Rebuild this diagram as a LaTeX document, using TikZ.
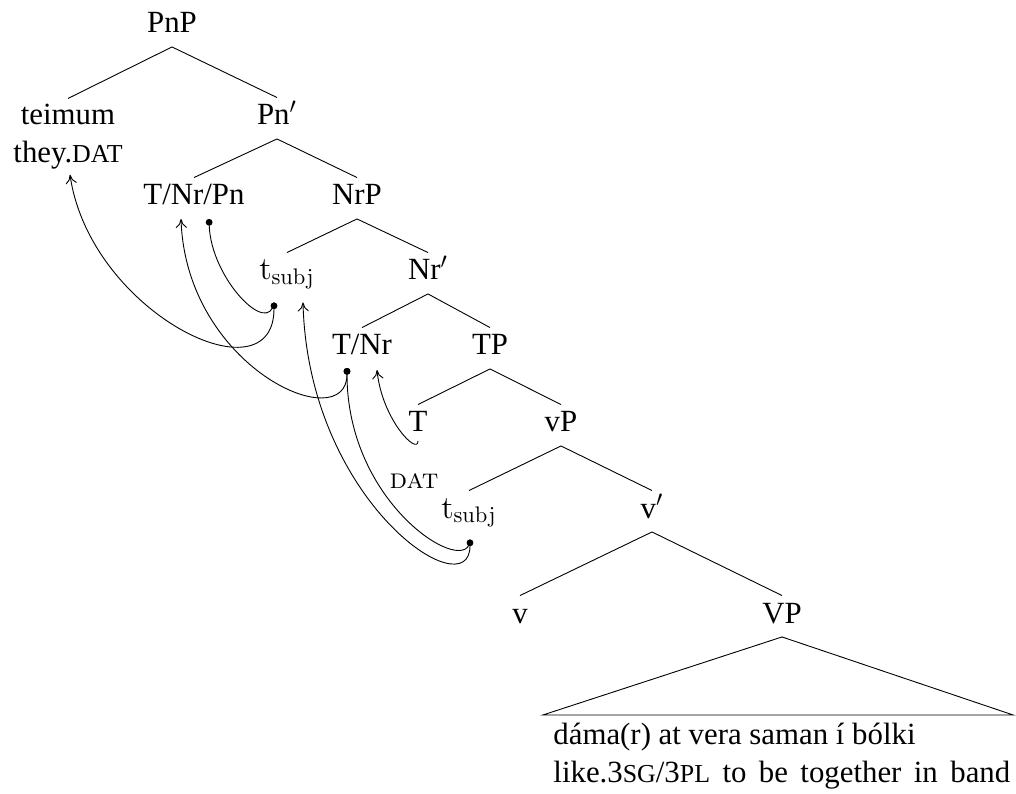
\documentclass[tikz,border=0pt]{standalone}
\usepackage[no-math]{fontspec}
\setmainfont{Liberation Serif}
\usetikzlibrary{arrows.meta}
\newcommand{\gsc}[1]{{\fontsize{11.5pt}{13pt}\selectfont #1}}
\newcommand{\lmsc}[1]{{\fontfamily{lmr}\fontsize{12.5pt}{14pt}\selectfont\scshape #1}}

\begin{document}
\begin{tikzpicture}[
  x=0.4444pt, y=-0.4444pt,
  font=\fontsize{13.7pt}{16.6pt}\selectfont, >={To[length=4pt,width=5pt]},
  cat/.style={anchor=base, inner sep=2.5pt, text height=9.5pt, text depth=3.5pt},
  move/.style={{Circle[length=3pt]}->},
  agree/.style={{Circle[length=3pt]}-}]

  \useasboundingbox (0,0) rectangle (1016,794);

  \node[cat] (pnp) at (172,33) {PnP};
  \node[anchor=base, inner sep=2.5pt, align=center,
        font=\fontsize{13.7pt}{16.9pt}\selectfont] (they) at (68,163)
    {teimum\\ they.\gsc{DAT}};
  \node[cat] (pnbar) at (277,125) {Pn$'$};
  \node[cat] (tnrpn) at (194,205) {T/Nr/Pn};
  \node[cat] (nrp) at (357,205) {NrP};
  \node[cat] (ts1) at (287,280) {$\mathrm{t}_{\mathrm{subj}}$};
  \node[cat] (nrbar) at (428,280) {Nr$'$};
  \node[cat] (tnr) at (362,355) {T/Nr};
  \node[cat] (tp) at (490,355) {TP};
  \node[cat] (t) at (418,432) {T};
  \node[cat] (vp) at (561,432) {vP};
  \node[cat] (ts2) at (469,518) {$\mathrm{t}_{\mathrm{subj}}$};
  \node[cat] (vbar) at (652,518) {v$'$};
  \node[cat] (v) at (520,623) {v};
  \node[cat] (bigvp) at (782,623) {VP};
  \node[anchor=base, inner sep=0pt] (dat) at (414,489) {\lmsc{dat}};
  \node[anchor=base west, inner sep=0pt, align=left] (gloss) at (553,782)
    {dáma(r) at vera saman í bólki\\
     \makebox[203pt][s]{like.3\gsc{SG}/3\gsc{PL} to be together in band}};

  \draw (pnp.south) -- (they.north);
  \draw (pnp.south) -- (pnbar.north);
  \draw (pnbar.south) -- (tnrpn.north);
  \draw (pnbar.south) -- (nrp.north);
  \draw (nrp.south) -- (ts1.north);
  \draw (nrp.south) -- (nrbar.north);
  \draw (nrbar.south) -- (tnr.north);
  \draw (nrbar.south) -- (tp.north);
  \draw (tp.south) -- (t.north);
  \draw (tp.south) -- (vp.north);
  \draw (vp.south) -- (ts2.north);
  \draw (vp.south) -- (vbar.north);
  \draw (vbar.south) -- (v.north);
  \draw (vbar.south) -- (bigvp.north);
  \draw (bigvp.south) -- ([shift={(-239,78)}]bigvp.south)
    -- ([shift={(231,78)}]bigvp.south) -- cycle;

  % movement and agreement
  \draw[move] ([shift={(-13,8.5)}]ts1.south) .. controls +(0,100) and +(20,138) .. ([shift={(2,-1)}]they.south);
  \draw[agree] ([shift={(15,0)}]tnrpn.south) .. controls +(2,60) and +(-5,35) .. ([shift={(-13,8.5)}]ts1.south);
  \draw[move] ([shift={(-15,-1)}]tnr.south) .. controls +(0,70) and +(5,150) .. ([shift={(-13,0)}]tnrpn.south);
  \draw[->] ([shift={(0,-5)}]t.south) .. controls +(0,15) and +(5,50) .. ([shift={(15,1)}]tnr.south);
  \draw[agree] ([shift={(-15,-1)}]tnr.south) .. controls +(0,140) and +(0,40) .. ([shift={(1,7.5)}]ts2.south);
  \draw[move] ([shift={(1,7.5)}]ts2.south) .. controls +(0,70) and +(5,200) .. ([shift={(16,8.5)}]ts1.south);
\end{tikzpicture}
\end{document}
